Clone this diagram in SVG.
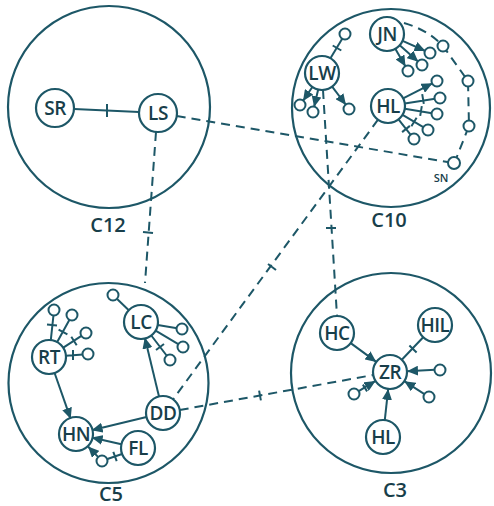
<svg xmlns="http://www.w3.org/2000/svg" width="494" height="506" viewBox="0 0 494 506">
<defs>
<marker id="arr" markerUnits="userSpaceOnUse" markerWidth="11" markerHeight="10" refX="11" refY="5" orient="auto">
<path d="M0,0 L11,5 L0,10 z" fill="#1d5767"/>
</marker>
</defs>
<style>
.cl{fill:none;stroke:#1d5767;stroke-width:2.2}
.nd{fill:#fff;stroke:#1d5767;stroke-width:2.2}
.sm{fill:#fff;stroke:#1d5767;stroke-width:2}
.e{fill:none;stroke:#1d5767;stroke-width:2}
.d{fill:none;stroke:#1d5767;stroke-width:2;stroke-dasharray:9 6}
.a{fill:none;stroke:#1d5767;stroke-width:2;marker-end:url(#arr)}
.t{font-family:"Open Sans","Noto Sans",sans-serif;font-size:19px;font-weight:600;fill:#183e4a;text-anchor:middle;dominant-baseline:central;letter-spacing:-0.5px}
.ct{font-family:"Open Sans","Noto Sans",sans-serif;font-size:20px;font-weight:600;fill:#183e4a;text-anchor:middle;dominant-baseline:central}
.st{font-family:"Open Sans","Noto Sans",sans-serif;font-size:11px;font-weight:600;fill:#183e4a;text-anchor:middle;dominant-baseline:central}
</style>
<g id="clusters">
<g id="C12"><circle class="cl" cx="109" cy="107" r="101"/><text class="ct" x="108" y="224">C12</text></g>
<g id="C10"><circle class="cl" cx="391" cy="108" r="99"/><text class="ct" x="389" y="219">C10</text></g>
<g id="C5"><circle class="cl" cx="108.5" cy="383" r="100"/><text class="ct" x="111" y="493">C5</text></g>
<g id="C3"><circle class="cl" cx="391" cy="373" r="100"/><text class="ct" x="395" y="489">C3</text></g>
</g>
<g id="connectors">
<path class="d" d="M176.7,116 L449,162.2"/>
<path class="d" d="M156,132 L145,283"/>
<path class="e" d="M143,232 L153,233"/>
<path class="d" d="M323,90 L337,316"/>
<path class="e" d="M326,228 L336,228"/>
<path class="d" d="M378,119.7 L172.5,400.1"/>
<path class="e" d="M268,264 L276,270"/>
<path class="d" d="M179.7,410 L373.3,375"/>
<path class="e" d="M259.1,390.6 L260.9,400.4"/>
<path class="d" d="M404,23 Q428,30 443,46 L468,81 L469,126 L454,164"/>
<path class="e" d="M74,108.9 L139,112.1"/>
<path class="e" d="M107,104 L107,117"/>
<path class="e" d="M330,59 L342.5,38.3"/>
<path class="e" d="M332.7,45.5 L341.3,50.5"/>
<path class="a" d="M313,86 L303,101"/>
<path class="a" d="M318.4,88.6 L314.1,107.1"/>
<path class="a" d="M331.6,85.8 L346,105"/>
<path class="a" d="M402.6,40.9 L425.4,51"/>
<path class="a" d="M399.7,45.2 L418.3,61.7"/>
<path class="a" d="M395.3,48.8 L405.5,66.6"/>
<path class="a" d="M403.1,98.3 L432.5,83.3"/>
<path class="e" d="M404.8,103.4 L435,98.8 M422.2,94.1 L423.8,103.9"/>
<path class="e" d="M404.8,108.7 L432,113.2 M421.8,106.1 L420.2,115.9"/>
<path class="e" d="M402.6,114.8 L423.7,127.4 M416.6,117.7 L411.4,126.3"/>
<path class="e" d="M398.5,119.4 L410.9,135.1 M409.9,125.9 L402.1,132.1"/>
<path class="a" d="M54.6,373 L70.7,418.9"/>
<path class="a" d="M146.5,417 L91.6,430.2"/>
<path class="a" d="M159,396.5 L144.8,337.6"/>
<path class="a" d="M121.4,444.3 L91.6,437.5"/>
<path class="e" d="M122,454 L106.7,459.3 M113.3,451.8 L116.7,461.2"/>
<path class="a" d="M98.5,457.4 L88,446.5"/>
<path class="e" d="M50.8,340.1 L53.5,315 M47,324.5 L57,325.5"/>
<path class="e" d="M57.2,342.1 L69.6,319.4 M58.6,329.6 L67.4,334.4"/>
<path class="e" d="M63.3,347.7 L81.8,335.7 M71.3,336.8 L76.7,345.2"/>
<path class="e" d="M66,355.7 L83,354.4 M73,350 L73,360"/>
<path class="e" d="M128.8,310.2 L116.6,298.5"/>
<path class="e" d="M157.8,324.9 L177.1,328.2"/>
<path class="e" d="M155.6,330.7 L178.7,344.4"/>
<path class="e" d="M151.3,335.5 L167,356 M156,350 L164,344"/>
<path class="a" d="M350.7,343.1 L376.3,361.9"/>
<path class="e" d="M423.2,337.3 L401.8,359.7 M409.4,345.5 L416.6,352.5"/>
<path class="a" d="M384.8,420.1 L388.2,388.9"/>
<path class="a" d="M435,369.8 L407,371.3"/>
<path class="a" d="M424.8,394.3 L404.3,381.2"/>
<path class="a" d="M358.3,391.4 L375.5,380.9"/>
<path class="e" d="M362.9,384.6 L367.1,391.4"/>
</g>
<g id="small-nodes">
<circle class="sm" cx="345" cy="34" r="5.5"/>
<circle class="sm" cx="300" cy="105" r="5.5"/>
<circle class="sm" cx="313" cy="112" r="5.5"/>
<circle class="sm" cx="349" cy="109" r="5.5"/>
<circle class="sm" cx="430" cy="53" r="5.5"/>
<circle class="sm" cx="422" cy="65" r="5.5"/>
<circle class="sm" cx="408" cy="71" r="5.5"/>
<circle class="sm" cx="437" cy="81" r="5.5"/>
<circle class="sm" cx="440" cy="98" r="5.5"/>
<circle class="sm" cx="437" cy="114" r="5.5"/>
<circle class="sm" cx="428" cy="130" r="5.5"/>
<circle class="sm" cx="414" cy="139" r="5.5"/>
<circle class="sm" cx="443" cy="46" r="5.5"/>
<circle class="sm" cx="468" cy="81" r="5.5"/>
<circle class="sm" cx="469" cy="126" r="5.5"/>
<circle class="sm" cx="54" cy="310" r="5.5"/>
<circle class="sm" cx="72" cy="315" r="5.5"/>
<circle class="sm" cx="86" cy="333" r="5.5"/>
<circle class="sm" cx="88" cy="354" r="5.5"/>
<circle class="sm" cx="113" cy="295" r="5.5"/>
<circle class="sm" cx="182" cy="329" r="5.5"/>
<circle class="sm" cx="183" cy="347" r="5.5"/>
<circle class="sm" cx="170" cy="360" r="5.5"/>
<circle class="sm" cx="102" cy="461" r="5.5"/>
<circle class="sm" cx="440" cy="370" r="5.5"/>
<circle class="sm" cx="429" cy="397" r="5.5"/>
<circle class="sm" cx="354" cy="394" r="5.5"/>
</g>
<g id="SN"><circle class="sm" cx="454" cy="163" r="6"/><text class="st" x="441" y="177">SN</text></g>
<g id="SR"><circle class="nd" cx="55" cy="108" r="19"/><text class="t" x="55" y="108">SR</text></g>
<g id="LS"><circle class="nd" cx="158" cy="113" r="19"/><text class="t" x="158" y="113">LS</text></g>
<g id="LW"><circle class="nd" cx="322" cy="73" r="17"/><text class="t" x="322" y="73">LW</text></g>
<g id="JN"><circle class="nd" cx="387" cy="34" r="17"/><text class="t" x="387" y="34">JN</text></g>
<g id="HL1"><circle class="nd" cx="388" cy="106" r="17"/><text class="t" x="388" y="106">HL</text></g>
<g id="RT"><circle class="nd" cx="49" cy="357" r="17"/><text class="t" x="49" y="357">RT</text></g>
<g id="HN"><circle class="nd" cx="76" cy="434" r="17"/><text class="t" x="76" y="434">HN</text></g>
<g id="FL"><circle class="nd" cx="138" cy="448" r="17"/><text class="t" x="138" y="448">FL</text></g>
<g id="LC"><circle class="nd" cx="141" cy="322" r="17"/><text class="t" x="141" y="322">LC</text></g>
<g id="DD"><circle class="nd" cx="163" cy="413" r="17"/><text class="t" x="163" y="413">DD</text></g>
<g id="HC"><circle class="nd" cx="337" cy="333" r="17"/><text class="t" x="337" y="333">HC</text></g>
<g id="ZR"><circle class="nd" cx="390" cy="372" r="17"/><text class="t" x="390" y="372">ZR</text></g>
<g id="HIL"><circle class="nd" cx="435" cy="325" r="17"/><text class="t" x="435" y="325">HIL</text></g>
<g id="HL2"><circle class="nd" cx="383" cy="437" r="17"/><text class="t" x="383" y="437">HL</text></g>
</svg>
